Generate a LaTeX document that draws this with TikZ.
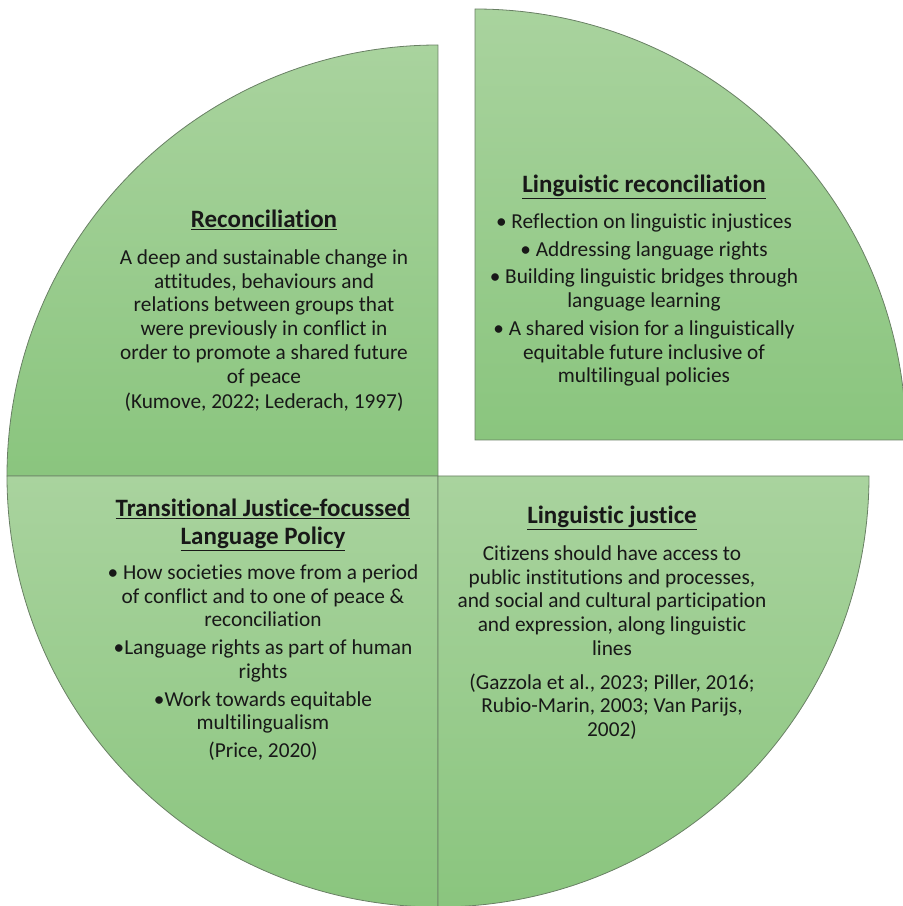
\documentclass[tikz,border=0pt]{standalone}
\usepackage{fontspec}
\setmainfont{Carlito}[RawFeature=-liga]
\usetikzlibrary{positioning}

\definecolor{quadtop}{RGB}{169,211,158}
\definecolor{quadbot}{RGB}{138,197,126}
\definecolor{quadline}{RGB}{105,128,100}
\definecolor{txtcol}{RGB}{24,24,24}

\tikzset{
  quad/.style={top color=quadtop, bottom color=quadbot, draw=quadline, line width=0.8pt},
  head/.style={font=\fontsize{25}{28}\selectfont\bfseries, align=center, inner sep=0pt},
  body/.style={font=\fontsize{21.3}{23.7}\selectfont, align=center, inner sep=0pt},
}

\begin{document}
\begin{tikzpicture}[x=1pt, y=1pt, every node/.style={text=txtcol}]
        \useasboundingbox (0,0) rectangle (903,906);
        \coordinate (C) at (438,430);
        \coordinate (E) at (475,466);

        % three quadrants of the circle, one pulled out to the upper right
        \draw[quad] (C) -- ++(180:431) arc[start angle=180, end angle=90, radius=431] -- cycle;
        \draw[quad] (C) -- ++(180:431) arc[start angle=180, end angle=270, radius=431] -- cycle;
        \draw[quad] (C) -- ++(270:431) arc[start angle=270, end angle=360, radius=431] -- cycle;
        \draw[quad] (E) -- ++(0:431) arc[start angle=0, end angle=90, radius=431] -- cycle;

        % top left
        \node[head] (recon) at (264,686) {\underline{Reconciliation}};
        \node[body, below=19.5pt of recon] (reconbody) {A deep and sustainable change in\\ attitudes, behaviours and\\
          relations between groups that\\ were previously in conflict in\\ order to promote a shared future\\
          of peace\\[2pt] (Kumove, 2022; Lederach, 1997)};

        % top right
        \node[head] (lingrecon) at (644,719) {\underline{Linguistic reconciliation}};
        \node[body, below=14.5pt of lingrecon] (lingreconbody) {• Reflection on linguistic injustices\\[4pt]
          • Addressing language rights\\[4pt]
          • Building linguistic bridges through\\ language learning\\[4pt]
          • A shared vision for a linguistically\\ equitable future inclusive of\\ multilingual policies};

        % bottom left
        \node[head] (tjlp) at (263,381) {\underline{Transitional Justice-focussed}\\ \underline{Language Policy}};
        \node[body, below=13.5pt of tjlp] (tjlpbody) {• How societies move from a period\\ of conflict and to one of peace \&\\
          reconciliation\\[4pt]
          •Language rights as part of human\\ rights\\[4pt]
          •Work towards equitable\\ multilingualism\\[4pt]
          (Price, 2020)};

        % bottom right
        \node[head] (lingjust) at (612,388) {\underline{Linguistic justice}};
        \node[body, below=15.5pt of lingjust] (lingjustbody) {Citizens should have access to\\ public institutions and processes,\\
          and social and cultural participation\\ and expression, along linguistic\\ lines\\[10pt]
          (Gazzola et al., 2023; Piller, 2016;\\ Rubio-Marin, 2003; Van Parijs,\\ 2002)};
\end{tikzpicture}
\end{document}
